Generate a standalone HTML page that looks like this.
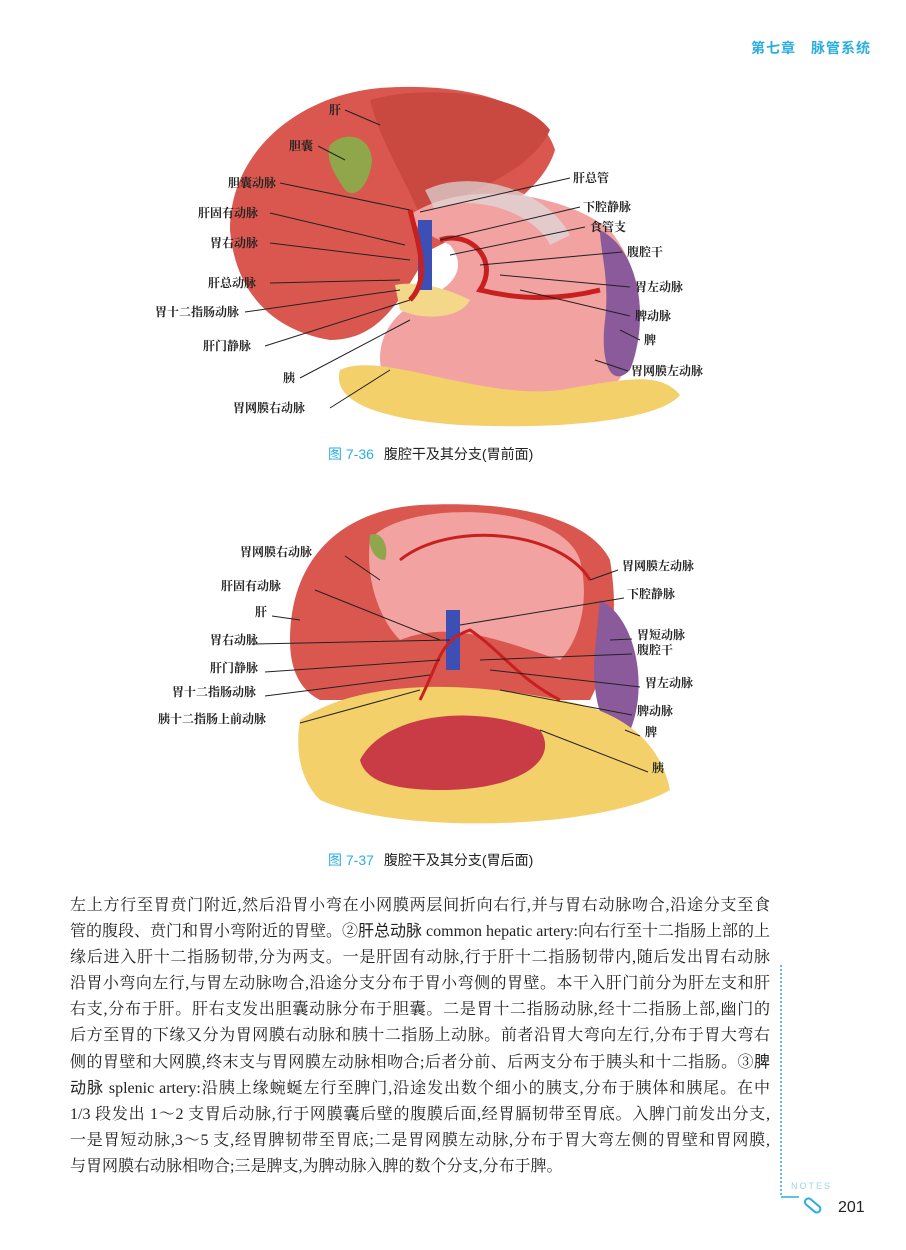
<!DOCTYPE html>
<html><head><meta charset="utf-8"><style>
body{margin:0;background:#fff;}
#p{position:relative;width:906px;height:1250px;overflow:hidden;font-family:"Liberation Serif","Noto Serif CJK SC",serif;}
.hd{position:absolute;left:751px;top:38px;font:bold 14px "Liberation Sans","Noto Sans CJK SC",sans-serif;color:#2aaee0;letter-spacing:1px}
.cap{position:absolute;font:14px "Liberation Sans","Noto Sans CJK SC",sans-serif;color:#222}
.cap b{color:#2aaee0;font-weight:normal;margin-right:10px}
.txt{position:absolute;left:70px;top:893px;width:700px;font-size:16px;line-height:26.1px;color:#222}
.txt div{text-align:justify;text-align-last:justify;white-space:nowrap;height:26.1px}
.txt div.l{text-align-last:left}
.txt b{font-family:"Liberation Sans","Noto Sans CJK SC",sans-serif;font-weight:normal}
svg text{font-family:"Liberation Serif","Noto Serif CJK SC",serif;font-size:12px;font-weight:bold;fill:#222}
</style></head><body><div id="p">
<div class="hd">第七章　脉管系统</div>
<svg width="906" height="1250" style="position:absolute;left:0;top:0">
<g>
<path d="M230 230 C230 150 300 95 380 88 C460 82 540 100 555 150 C540 200 470 230 430 250 C400 300 380 340 330 340 C270 330 235 290 230 230Z" fill="#d9574f"/>
<path d="M370 100 C420 85 520 90 550 130 C530 175 460 195 420 215 C400 170 380 140 370 100Z" fill="#c94840"/>
<path d="M330 145 C345 130 370 135 372 160 C370 185 355 200 345 190 C335 175 325 160 330 145Z" fill="#8fa64a"/>
<path d="M410 215 C460 180 560 190 610 230 C650 280 650 350 610 390 C560 420 440 420 390 390 C370 360 380 320 420 300 C450 290 470 270 450 245 C430 235 415 230 410 215Z" fill="#f2a2a0"/>
<path d="M600 230 C640 250 650 320 630 370 C610 390 600 360 605 320 C610 280 600 250 600 230Z" fill="#8a5a9a"/>
<path d="M340 370 C380 350 480 400 560 390 C620 380 660 370 680 395 C660 420 560 430 460 425 C390 420 330 405 340 370Z" fill="#f3d06a"/>
<path d="M395 285 C420 280 450 290 470 300 C460 320 420 320 400 310Z" fill="#f3d88a"/>
<rect x="418" y="220" width="14" height="70" fill="#3d4fb5"/>
<path d="M410 210 C420 250 430 280 410 300 M440 240 C470 230 500 260 480 290 C520 300 560 300 600 290" stroke="#c81f1f" stroke-width="5" fill="none"/>
<path d="M430 200 C470 180 540 200 560 240" stroke="#ddd" stroke-width="22" fill="none" opacity=".7"/>
</g>
<g stroke="#222" stroke-width="1" fill="none">
<path d="M345 110 L380 125 M318 146 L345 160 M280 183 L410 210 M270 213 L405 245 M270 243 L410 260 M270 283 L400 280 M245 312 L400 290 M265 346 L410 300 M300 378 L410 320 M330 408 L390 370 M570 178 L420 212 M580 207 L440 240 M585 227 L450 255 M622 252 L480 265 M630 287 L500 275 M630 316 L520 290 M640 340 L620 330 M628 371 L595 360"/>
</g>
<text x="329" y="114">肝</text><text x="289" y="150">胆囊</text><text x="228" y="187">胆囊动脉</text><text x="198" y="217">肝固有动脉</text>
<text x="210" y="247">胃右动脉</text><text x="208" y="287">肝总动脉</text><text x="155" y="316">胃十二指肠动脉</text><text x="203" y="350">肝门静脉</text>
<text x="283" y="382">胰</text><text x="233" y="412">胃网膜右动脉</text>
<text x="573" y="182">肝总管</text><text x="583" y="211">下腔静脉</text><text x="590" y="231">食管支</text><text x="627" y="256">腹腔干</text>
<text x="635" y="291">胃左动脉</text><text x="635" y="320">脾动脉</text><text x="644" y="344">脾</text><text x="631" y="375">胃网膜左动脉</text>
<g>
<path d="M290 640 C290 560 340 510 420 505 C520 500 590 520 610 560 C620 620 610 660 590 700 L320 700 C300 690 290 670 290 640Z" fill="#d9574f"/>
<path d="M370 540 C400 500 560 500 580 560 C590 600 580 640 560 660 C500 640 450 620 400 640 C380 620 365 580 370 540Z" fill="#f2a2a0"/>
<path d="M600 600 C640 620 650 700 625 740 C605 740 590 700 595 650Z" fill="#8a5a9a"/>
<path d="M300 720 C360 680 460 680 560 700 C620 710 660 740 670 790 C600 830 400 835 320 800 C300 780 295 750 300 720Z" fill="#f3d06a"/>
<path d="M360 760 C380 720 460 700 540 730 C560 760 520 790 440 790 C390 790 365 780 360 760Z" fill="#c93c45"/>
<path d="M370 535 C380 530 390 545 385 560 C375 560 368 548 370 535Z" fill="#8fa64a"/>
<rect x="446" y="610" width="14" height="60" fill="#3d4fb5"/>
<path d="M420 700 C440 660 440 640 470 630 C500 650 520 680 560 700 M400 560 C450 520 560 530 590 580" stroke="#c81f1f" stroke-width="3" fill="none"/>
</g>
<g stroke="#222" stroke-width="1" fill="none">
<path d="M345 556 L380 580 M315 590 L440 640 M272 616 L300 620 M252 644 L450 640 M265 672 L440 660 M265 696 L430 675 M300 723 L420 690 M618 570 L590 580 M624 598 L460 625 M632 639 L610 640 M632 654 L480 660 M640 687 L490 670 M632 715 L500 690 M640 736 L625 730 M648 772 L540 730"/>
</g>
<text x="240" y="556">胃网膜右动脉</text><text x="221" y="590">肝固有动脉</text><text x="255" y="616">肝</text><text x="210" y="644">胃右动脉</text>
<text x="210" y="672">肝门静脉</text><text x="172" y="696">胃十二指肠动脉</text><text x="158" y="723">胰十二指肠上前动脉</text>
<text x="622" y="570">胃网膜左动脉</text><text x="627" y="598">下腔静脉</text><text x="637" y="639">胃短动脉</text><text x="637" y="654">腹腔干</text>
<text x="645" y="687">胃左动脉</text><text x="637" y="715">脾动脉</text><text x="645" y="736">脾</text><text x="652" y="772">胰</text>
<path d="M781 965 L781 1197" stroke="#2aaee0" stroke-width="1.5" stroke-dasharray="2 2"/>
<path d="M781 1197 L799 1197" stroke="#2aaee0" stroke-width="1.5"/>
<text x="791" y="1189" style="font:9px 'Liberation Sans',sans-serif;fill:#9ad6f0;letter-spacing:2px">NOTES</text>
<rect x="808" y="1197" width="18" height="7" rx="3.5" transform="rotate(40 808 1197)" fill="none" stroke="#2aaee0" stroke-width="2"/>
<text x="838" y="1212" style="font:16px 'Liberation Sans',sans-serif;fill:#222">201</text>
</svg>
<div class="cap" style="left:328px;top:444px"><b>图 7-36</b>腹腔干及其分支(胃前面)</div>
<div class="cap" style="left:328px;top:850px"><b>图 7-37</b>腹腔干及其分支(胃后面)</div>
<div class="txt">
<div>左上方行至胃贲门附近,然后沿胃小弯在小网膜两层间折向右行,并与胃右动脉吻合,沿途分支至食</div>
<div>管的腹段、贲门和胃小弯附近的胃壁。②<b>肝总动脉</b> common hepatic artery:向右行至十二指肠上部的上</div>
<div>缘后进入肝十二指肠韧带,分为两支。一是肝固有动脉,行于肝十二指肠韧带内,随后发出胃右动脉</div>
<div>沿胃小弯向左行,与胃左动脉吻合,沿途分支分布于胃小弯侧的胃壁。本干入肝门前分为肝左支和肝</div>
<div>右支,分布于肝。肝右支发出胆囊动脉分布于胆囊。二是胃十二指肠动脉,经十二指肠上部,幽门的</div>
<div>后方至胃的下缘又分为胃网膜右动脉和胰十二指肠上动脉。前者沿胃大弯向左行,分布于胃大弯右</div>
<div>侧的胃壁和大网膜,终末支与胃网膜左动脉相吻合;后者分前、后两支分布于胰头和十二指肠。③<b>脾</b></div>
<div><b>动脉</b> splenic artery:沿胰上缘蜿蜒左行至脾门,沿途发出数个细小的胰支,分布于胰体和胰尾。在中</div>
<div>1/3 段发出 1～2 支胃后动脉,行于网膜囊后壁的腹膜后面,经胃膈韧带至胃底。入脾门前发出分支,</div>
<div>一是胃短动脉,3～5 支,经胃脾韧带至胃底;二是胃网膜左动脉,分布于胃大弯左侧的胃壁和胃网膜,</div>
<div class="l">与胃网膜右动脉相吻合;三是脾支,为脾动脉入脾的数个分支,分布于脾。</div>
</div>
</div></body></html>
